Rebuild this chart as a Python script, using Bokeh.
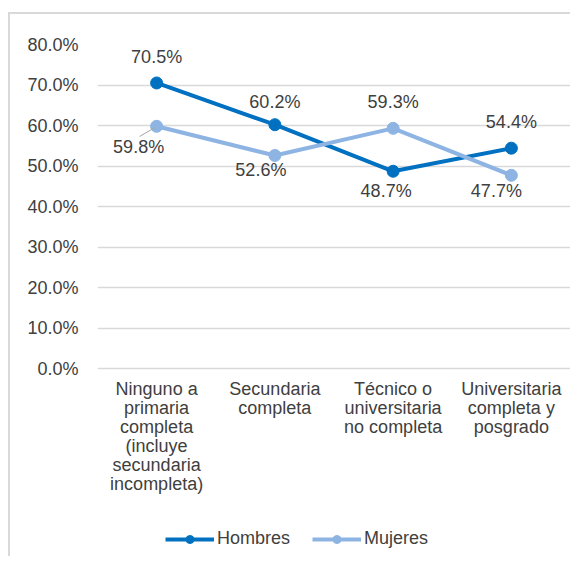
from bokeh.plotting import figure
from bokeh.models import (Range1d, FixedTicker, PrintfTickFormatter, Legend,
                          LegendItem)
from bokeh.core.properties import value
from bokeh.embed import file_html
from bokeh.resources import INLINE

# ---- data ----
categories = [
    "Ninguno a\nprimaria\ncompleta\n(incluye\nsecundaria\nincompleta)",
    "Secundaria\ncompleta",
    "Técnico o\nuniversitaria\nno completa",
    "Universitaria\ncompleta y\nposgrado",
]
hombres = [70.5, 60.2, 48.7, 54.4]
mujeres = [59.8, 52.6, 59.3, 47.7]
y_ticks = [0, 10, 20, 30, 40, 50, 60, 70, 80]
series_names = ["Hombres", "Mujeres"]

# ---- styles / layout ----
FONT = "Liberation Sans"
FS = "18px"
TEXT = "#404040"
C_H = "#0070C0"
C_M = "#8DB4E2"
GRID = "#d9d9d9"

W, H = 570, 556
TOP, LEFT = 44, 97
GRID_BOTTOM = 368          # pixel row of the 0% gridline
px_per_unit = (GRID_BOTTOM - TOP) / (y_ticks[-1] - y_ticks[0])
y_min = y_ticks[0] - (H - GRID_BOTTOM) / px_per_unit

# label placement offsets (screen px) for each point
h_off_x = [0, 0, -7, 0]
h_off_y = [-26, -23, 20, -26]
m_off_x = [-18, -14, 0, -15]
m_off_y = [21, 15, -26, 16]

xs = list(range(len(categories)))

p = figure(width=W, height=H,
           x_range=Range1d(-0.5, len(categories) - 0.5),
           y_range=Range1d(y_min, y_ticks[-1]),
           output_backend="svg", toolbar_location=None,
           min_border_left=LEFT, min_border_right=0,
           min_border_top=TOP, min_border_bottom=0)
p.outline_line_color = None
p.background_fill_color = None
p.border_fill_color = None
p.styles = {
    "background-color": "white",
    "background-image": f"linear-gradient({GRID}, {GRID}), linear-gradient({GRID}, {GRID})",
    "background-size": "2px 100%, 100% 2px",
    "background-position": "8px 12px, 8px 12px",
    "background-repeat": "no-repeat",
}

p.xgrid.grid_line_color = None
p.ygrid.grid_line_color = GRID
p.ygrid.grid_line_width = 1.3

p.yaxis.ticker = FixedTicker(ticks=y_ticks)
p.yaxis.formatter = PrintfTickFormatter(format="%.1f%%")
p.yaxis.axis_line_color = None
p.yaxis.major_tick_line_color = None
p.yaxis.minor_tick_line_color = None
p.yaxis.major_label_text_font = FONT
p.yaxis.major_label_text_font_size = FS
p.yaxis.major_label_text_color = TEXT
p.yaxis.major_label_standoff = 13
p.xaxis.visible = False

# category labels hanging below the 0% line
p.text(x=xs, y=[y_ticks[0]] * len(xs), text=categories,
       y_offset=10, text_font=value(FONT), text_font_size=FS,
       text_color=TEXT, text_align="center", text_baseline="top",
       text_line_height=0.95)

lh = p.line(xs, hombres, line_color=C_H, line_width=4)
sh = p.scatter(xs, hombres, size=12, fill_color=C_H, line_color=C_H)
lm = p.line(xs, mujeres, line_color=C_M, line_width=4)
sm = p.scatter(xs, mujeres, size=12, fill_color=C_M, line_color=C_M)

# leader line for first Mujeres label
p.segment(x0=[xs[0] - 0.013], y0=[mujeres[0] - 0.3],
          x1=[xs[0] - 0.144], y1=[mujeres[0] - 2.5],
          line_color="#a6a6a6", line_width=1)

p.text(x=xs, y=hombres, text=[f"{v:.1f}%" for v in hombres],
       x_offset=h_off_x, y_offset=h_off_y,
       text_font=value(FONT), text_font_size=FS, text_color=TEXT,
       text_align="center", text_baseline="middle")
p.text(x=xs, y=mujeres, text=[f"{v:.1f}%" for v in mujeres],
       x_offset=m_off_x, y_offset=m_off_y,
       text_font=value(FONT), text_font_size=FS, text_color=TEXT,
       text_align="center", text_baseline="middle")

legend = Legend(items=[LegendItem(label=series_names[0], renderers=[lh, sh]),
                       LegendItem(label=series_names[1], renderers=[lm, sm])],
                orientation="horizontal", location=(165 - LEFT, 7),
                glyph_width=49, glyph_height=20, label_standoff=3,
                spacing=22, padding=0, margin=0,
                border_line_color=None, background_fill_alpha=0,
                label_text_font=FONT, label_text_font_size=FS,
                label_text_color=TEXT, label_height=20)
p.add_layout(legend)

open("out.html", "w").write(file_html(p, INLINE))
